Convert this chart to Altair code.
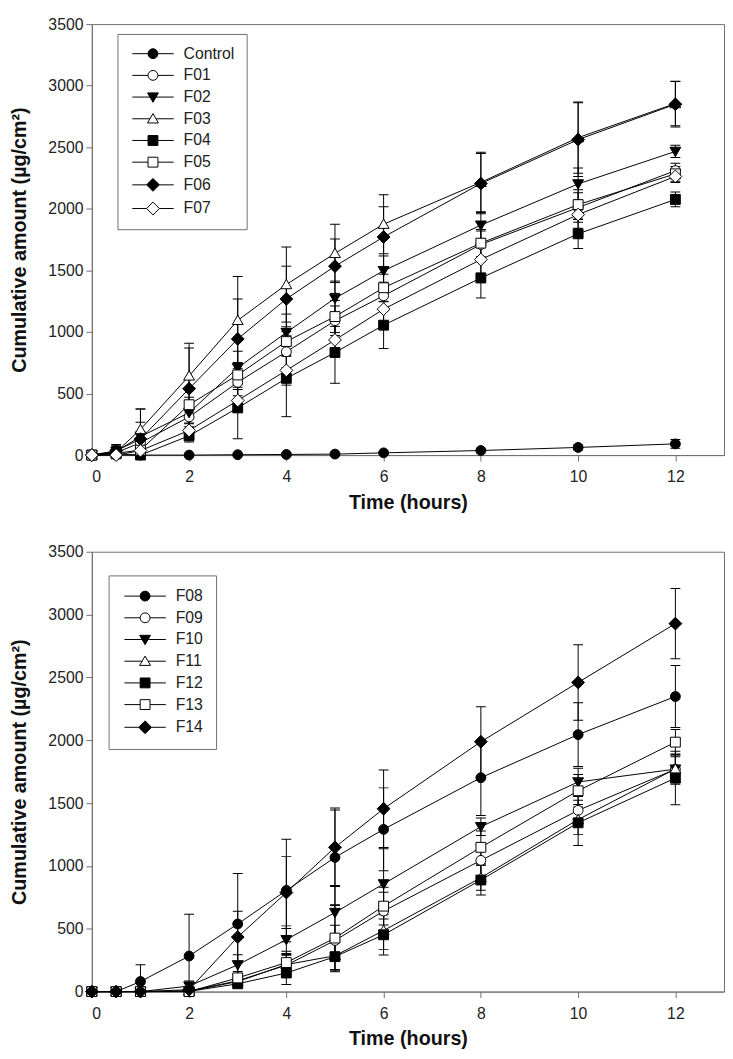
import altair as alt
import pandas as pd

times = [0, 0.5, 1, 2, 3, 4, 5, 6, 8, 10, 12]

top_series = ["Control", "F01", "F02", "F03", "F04", "F05", "F06", "F07"]
top_means = {
    "Control": [0, 0, 0, 0, 3, 5, 8, 18, 37, 62, 91],
    "F01": [0, 20, 100, 310, 591, 839, 1091, 1294, 1710, 2010, 2310],
    "F02": [0, 30, 150, 344, 709, 995, 1273, 1497, 1867, 2202, 2466],
    "F03": [0, 25, 208, 643, 1094, 1385, 1638, 1875, 2215, 2578, 2855],
    "F04": [0, 10, 0, 156, 383, 623, 833, 1055, 1438, 1797, 2076],
    "F05": [0, 15, 40, 409, 651, 922, 1125, 1359, 1721, 2034, 2284],
    "F06": [0, 35, 130, 539, 943, 1268, 1534, 1771, 2205, 2562, 2849],
    "F07": [0, 0, 36, 200, 443, 688, 935, 1185, 1588, 1953, 2263],
}
top_sds = {
    "Control": [0, 0, 0, 0, 3, 3, 4, 5, 8, 20, 35],
    "F01": [0, 40, 90, 80, 110, 130, 120, 110, 110, 120, 60],
    "F02": [0, 40, 225, 90, 135, 150, 140, 120, 110, 130, 50],
    "F03": [0, 50, 167, 266, 357, 305, 237, 240, 245, 290, 180],
    "F04": [0, 30, 60, 50, 250, 311, 250, 190, 162, 120, 60],
    "F05": [0, 40, 80, 60, 100, 120, 130, 110, 110, 120, 60],
    "F06": [0, 50, 136, 330, 325, 266, 221, 245, 245, 300, 185],
    "F07": [0, 20, 50, 60, 90, 120, 110, 100, 110, 110, 50],
}

bottom_series = ["F08", "F09", "F10", "F11", "F12", "F13", "F14"]
bottom_means = {
    "F08": [0, 0, 80, 283, 538, 805, 1068, 1291, 1702, 2045, 2348],
    "F09": [0, 0, 0, 5, 86, 210, 407, 641, 1044, 1442, 1769],
    "F10": [0, 0, 0, 44, 213, 413, 629, 857, 1312, 1668, 1770],
    "F11": [0, 0, 0, 3, 80, 215, 285, 486, 906, 1369, 1772],
    "F12": [0, 0, 0, 2, 62, 148, 278, 452, 888, 1343, 1699],
    "F13": [0, 0, 0, 0, 109, 231, 426, 680, 1148, 1598, 1985],
    "F14": [0, 0, 0, 15, 434, 788, 1148, 1455, 1988, 2460, 2928],
}
bottom_sds = {
    "F08": [0, 0, 134, 333, 402, 408, 377, 330, 300, 254, 247],
    "F09": [0, 0, 0, 5, 40, 80, 120, 150, 120, 110, 100],
    "F10": [0, 0, 0, 40, 80, 110, 215, 280, 70, 110, 120],
    "F11": [0, 0, 0, 5, 40, 80, 110, 150, 100, 120, 110],
    "F12": [0, 0, 0, 5, 30, 91, 120, 160, 120, 180, 213],
    "F13": [0, 0, 0, 5, 50, 90, 260, 150, 130, 130, 100],
    "F14": [0, 0, 0, 20, 206, 286, 312, 309, 278, 300, 280],
}

x_ticks = [0, 2, 4, 6, 8, 10, 12]
y_ticks = [0, 500, 1000, 1500, 2000, 2500, 3000, 3500]

# marker geometry (unit paths, scaled by sqrt(size)/2)
P_CIRCLE = "M1,0A1,1,0,1,1,-1,0A1,1,0,1,1,1,0Z"
P_TDOWN = "M-1.1,-0.85L1.1,-0.85L0,1.05Z"
P_TUP = "M0,-1.05L1.1,0.85L-1.1,0.85Z"
P_SQ = "M-1,-1L1,-1L1,1L-1,1Z"
P_DIA = "M0,-1.3L1.3,0L0,1.3L-1.3,0Z"
marker_paths = [P_CIRCLE, P_CIRCLE, P_TDOWN, P_TUP, P_SQ, P_SQ, P_DIA, P_DIA]
marker_half = [1, 1, 0.61, 0.61, 1, 1, 1.3, 1.3]
legend_paths = [
    "M-4.2,0L%s,0M%s,0L4.2,0" % (-h, h) + p for p, h in zip(marker_paths, marker_half)
]
marker_fills = ["black", "white", "black", "white", "black", "white", "black", "white"]

FONT = "Liberation Sans"
GRAY = "#707070"


def build_df(series, means, sds):
    rows = []
    for s in series:
        for t, m, sd in zip(times, means[s], sds[s]):
            rows.append({"series": s, "t": t, "mean": m, "sd": sd,
                         "lo": m - sd, "hi": m + sd})
    return pd.DataFrame(rows)


def xenc():
    return alt.X("t:Q", scale=alt.Scale(domain=[0, 13], nice=False, zero=False),
                 axis=alt.Axis(values=x_ticks, format="d", title="Time (hours)"))


def yenc(field):
    return alt.Y(field + ":Q", scale=alt.Scale(domain=[0, 3500], nice=False),
                 axis=alt.Axis(values=y_ticks, format="d",
                               title="Cumulative amount (µg/cm²)"))


def panel(series, means, sds, lx, ly, lpad, height):
    df = build_df(series, means, sds)
    n = len(series)
    base = alt.Chart(df)
    err = base.transform_filter("datum.sd > 0")
    rules = err.mark_rule(color="black", strokeWidth=1, clip=True).encode(
        x=xenc(), y=yenc("lo"), y2="hi:Q")
    cap_hi = err.mark_tick(orient="horizontal", size=10, thickness=1,
                           color="black", opacity=1, clip=True).encode(x=xenc(), y=yenc("hi"))
    cap_lo = err.mark_tick(orient="horizontal", size=10, thickness=1,
                           color="black", opacity=1, clip=True).encode(x=xenc(), y=yenc("lo"))
    lines = base.mark_line(color="black", strokeWidth=1).encode(
        x=xenc(), y=yenc("mean"), detail="series:N")
    points = base.mark_point(filled=True, stroke="black", strokeWidth=1,
                             opacity=1, size=100).encode(
        x=xenc(), y=yenc("mean"),
        shape=alt.Shape("series:N", scale=alt.Scale(domain=series, range=marker_paths[:n]),
                        legend=None),
        fill=alt.Fill("series:N", scale=alt.Scale(domain=series, range=marker_fills[:n]),
                      legend=None),
    )
    leg = alt.Legend(orient="none", legendX=lx, legendY=ly, title=None, padding=lpad,
                     symbolStrokeWidth=1, symbolOpacity=1)
    legend_layer = base.transform_filter("false").mark_point(
        filled=True, strokeWidth=1, opacity=1, size=100).encode(
        x=xenc(), y=yenc("mean"),
        shape=alt.Shape("series:N", scale=alt.Scale(domain=series, range=legend_paths[:n]),
                        legend=leg),
        fill=alt.Fill("series:N", scale=alt.Scale(domain=series, range=marker_fills[:n]),
                      legend=leg),
        stroke=alt.Stroke("series:N", scale=alt.Scale(domain=series, range=["black"] * n),
                          legend=leg),
    )
    return alt.layer(rules, cap_hi, cap_lo, lines, points, legend_layer).resolve_scale(
        shape="independent", fill="independent", stroke="independent"
    ).properties(width=641, height=height)


top = panel(top_series, top_means, top_sds, 26, 10, 12, 437)
bottom = panel(bottom_series, bottom_means, bottom_sds, 17, 24, 13, 446)

chart = alt.vconcat(top, bottom, spacing=30).properties(
    padding=0, background="white"
).configure_view(
    stroke=GRAY, strokeWidth=1
).configure_axis(
    domainColor=GRAY, tickColor=GRAY, tickSize=6, grid=False,
    labelFont=FONT, labelFontSize=16, labelColor="#222",
    titleFont=FONT, titleFontSize=20, titleFontWeight="bold", titleColor="#111",
).configure_axisX(
    labelPadding=8, titlePadding=8
).configure_axisY(
    labelPadding=3, titlePadding=19
).configure_legend(
    labelFont=FONT, labelFontSize=16, labelColor="#222",
    symbolSize=100, symbolStrokeWidth=1,
    strokeColor=GRAY, fillColor="white", rowPadding=6,
    symbolOffset=16, labelOffset=23, cornerRadius=0,
)

chart.save("out.html", embed_options={"renderer": "svg", "actions": False})
